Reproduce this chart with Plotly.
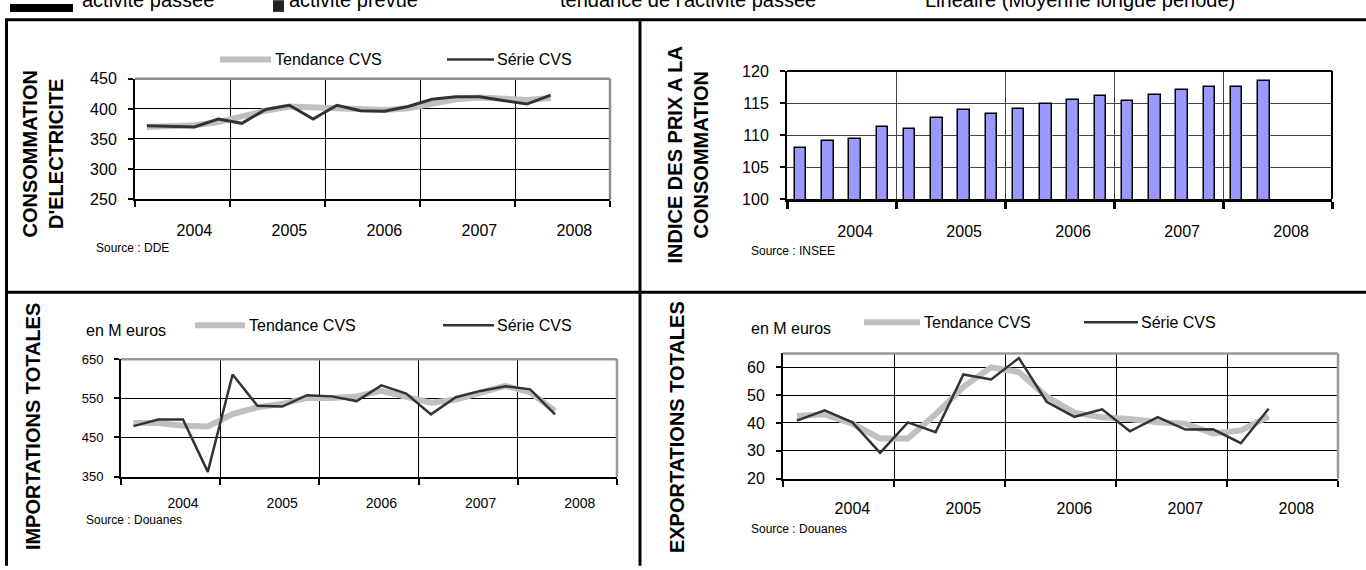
import plotly.graph_objects as go

# ---------------- data ----------------
quarter_slots = list(range(18))          # quarterly points, 4 slots per year
years = ["2004", "2005", "2006", "2007", "2008"]
year_label_slots = [2, 6, 10, 14, 18]
year_boundaries = [-0.5, 3.5, 7.5, 11.5, 15.5, 19.5]

elec_tendance = [370, 372, 373, 378, 388, 397, 404, 403, 401, 399, 398, 401, 409, 416, 419, 418, 415, 418]
elec_serie = [372, 371, 370, 383, 376, 399, 406, 383, 406, 397, 396, 404, 416, 420, 420, 414, 408, 423]

prix = [107.9, 109.1, 109.4, 111.3, 111.0, 112.6, 113.9, 113.3, 114.1, 114.8,
        115.4, 116.1, 115.3, 116.2, 117.0, 117.5, 117.5, 118.5]

imp_tendance = [487, 487, 480, 478, 510, 527, 536, 551, 551, 555, 569, 555, 539, 547, 565, 582, 565, 518]
imp_serie = [479, 496, 496, 362, 611, 531, 529, 558, 555, 543, 583, 562, 509, 553, 569, 581, 573, 509]

exp_tendance = [42.5, 43.1, 39.7, 34.4, 34.4, 43.1, 53.0, 60.0, 58.3, 49.5, 43.7, 42.0, 41.4, 40.2, 39.7, 36.2, 37.3, 42.3]
exp_serie = [40.8, 44.5, 40.2, 29.2, 40.2, 36.7, 57.4, 55.6, 63.3, 47.6, 42.2, 44.9, 37.0, 42.1, 37.6, 37.7, 32.7, 45.1]

legend_names = ["Tendance CVS", "Série CVS"]
top_items = ["activité passée", "activité prévue", "tendance de l'activité passée",
             "Linéaire (Moyenne longue période)"]

# ---------------- helpers ----------------
W, H = 1366, 570
F = "Liberation Sans, Arial"
FB = "Liberation Sans, Arial"
TREND = "#C0C0C0"
SERIE = "#333333"


def X(x):
    return x / W


def Y(y):
    return 1 - y / H


def make_x(x0, x1, yanchor, fsize, label_len, axis_w=2, tick_w=1.5, tick_len=6, grid="black"):
    return dict(domain=[X(x0), X(x1)], anchor=yanchor, range=[-0.5, 19.5],
                showgrid=False, zeroline=False, showline=True, linecolor="black", linewidth=axis_w,
                tickmode="array", tickvals=year_label_slots, ticktext=years,
                ticks="outside", ticklen=label_len, tickcolor="rgba(0,0,0,0)",
                tickfont=dict(family=F, size=fsize, color="black"),
                minor=dict(tickmode="array", tickvals=year_boundaries, ticks="outside",
                           ticklen=tick_len, tickwidth=tick_w, tickcolor="black",
                           showgrid=True, gridcolor=grid, gridwidth=1),
                fixedrange=True)


def make_y(yb, yt, xanchor, rng, dtick, fsize, grid="black", standoff=8):
    return dict(domain=[Y(yb), Y(yt)], anchor=xanchor, range=rng, tick0=rng[0], dtick=dtick,
                showgrid=True, gridcolor=grid, gridwidth=1, zeroline=False,
                showline=True, linecolor="black", linewidth=2,
                ticks="outside", ticklen=5, tickwidth=1.5, tickcolor="black",
                tickfont=dict(family=F, size=fsize, color="black"),
                ticklabelstandoff=standoff, fixedrange=True)


fig = go.Figure()

# panel 1 : electricity
fig.add_trace(go.Scatter(x=quarter_slots, y=elec_tendance, xaxis="x", yaxis="y", mode="lines",
                         line=dict(color=TREND, width=6), showlegend=False, hoverinfo="skip"))
fig.add_trace(go.Scatter(x=quarter_slots, y=elec_serie, xaxis="x", yaxis="y", mode="lines",
                         line=dict(color=SERIE, width=3), showlegend=False, hoverinfo="skip"))
# panel 2 : prices
fig.add_trace(go.Bar(x=quarter_slots, y=prix, xaxis="x2", yaxis="y2", width=0.42,
                     marker=dict(color="#9999FF", line=dict(color="black", width=1.5)),
                     showlegend=False, hoverinfo="skip"))
# panel 3 : imports
fig.add_trace(go.Scatter(x=quarter_slots, y=imp_tendance, xaxis="x3", yaxis="y3", mode="lines",
                         line=dict(color=TREND, width=6), showlegend=False, hoverinfo="skip"))
fig.add_trace(go.Scatter(x=quarter_slots, y=imp_serie, xaxis="x3", yaxis="y3", mode="lines",
                         line=dict(color=SERIE, width=2.5), showlegend=False, hoverinfo="skip"))
# panel 4 : exports
fig.add_trace(go.Scatter(x=quarter_slots, y=exp_tendance, xaxis="x4", yaxis="y4", mode="lines",
                         line=dict(color=TREND, width=6), showlegend=False, hoverinfo="skip"))
fig.add_trace(go.Scatter(x=quarter_slots, y=exp_serie, xaxis="x4", yaxis="y4", mode="lines",
                         line=dict(color=SERIE, width=2.5), showlegend=False, hoverinfo="skip"))

shapes = []
annotations = []

# outer frame lines
for (x0, y0, x1, y1) in [(6.5, 12, 6.5, 575), (5, 12, 1370, 12), (640, 12, 640, 575), (5, 293, 1370, 293)]:
    shapes.append(dict(type="line", xref="paper", yref="paper", x0=X(x0), y0=Y(y0), x1=X(x1), y1=Y(y1),
                       line=dict(color="black", width=3)))

# plot frames (top + right)
for ax, col, w in [("", "#8c8c8c", 2.5), ("2", "black", 2), ("3", "#999999", 2.5), ("4", "#999999", 2.5)]:
    xr, yr = "x%s domain" % ax, "y%s domain" % ax
    shapes.append(dict(type="line", xref=xr, yref=yr, x0=0, x1=1, y0=1, y1=1, line=dict(color=col, width=w)))
    shapes.append(dict(type="line", xref=xr, yref=yr, x0=1, x1=1, y0=0, y1=1, line=dict(color=col, width=w)))


def legend(y, g0, g1, b0, b1, size=16):
    shapes.append(dict(type="line", xref="paper", yref="paper", x0=X(g0), x1=X(g1), y0=Y(y), y1=Y(y),
                       line=dict(color=TREND, width=6)))
    shapes.append(dict(type="line", xref="paper", yref="paper", x0=X(b0), x1=X(b1), y0=Y(y), y1=Y(y),
                       line=dict(color=SERIE, width=2.5)))
    for txt, xx in [(legend_names[0], g1 + 2), (legend_names[1], b1 + 1)]:
        annotations.append(dict(text=txt, x=X(xx), y=Y(y), xref="paper", yref="paper", showarrow=False,
                                xanchor="left", yanchor="middle", font=dict(family=F, size=size, color="black")))


def text(t, x, y, size, family=F, angle=0, xanchor="left"):
    annotations.append(dict(text=t, x=X(x), y=Y(y), xref="paper", yref="paper", showarrow=False,
                            xanchor=xanchor, yanchor="middle", textangle=angle,
                            font=dict(family=family, size=size, color="black")))


# top strip (cut off legend of a previous chart)
shapes.append(dict(type="rect", xref="paper", yref="paper", x0=X(10), x1=X(73), y0=Y(4), y1=Y(-4),
                   fillcolor="black", line=dict(width=0)))
shapes.append(dict(type="rect", xref="paper", yref="paper", x0=X(273), x1=X(284), y0=Y(4), y1=Y(-8),
                   fillcolor="#222222", line=dict(width=0)))
for t, xx in zip(top_items, [80, 287, 558, 923]):
    text(t, xx, -8, 20, family=FB)

# panel 1 texts
text("<b>CONSOMMATION<br>D'ELECTRICITE</b>", 43, 151, 20, family=FB, angle=-90, xanchor="center")
legend(53, 220, 271, 447, 494)
text("Source : DDE", 94, 247, 12)

# panel 2 texts
text("<b>INDICE DES PRIX A LA<br>CONSOMMATION</b>", 688, 152, 20, family=FB, angle=-90, xanchor="center")
text("Source : INSEE", 749, 250, 12)

# panel 3 texts
text("<b>IMPORTATIONS TOTALES</b>", 33, 432, 20, family=FB, angle=-90, xanchor="center")
text("en M euros", 84, 332, 16)
legend(327, 195, 245, 443, 494)
text("Source : Douanes", 84, 528, 12)

# panel 4 texts
text("<b>EXPORTATIONS TOTALES</b>", 677, 432, 20, family=FB, angle=-90, xanchor="center")
text("en M euros", 749, 330, 16)
legend(324, 864, 920, 1084, 1138)
text("Source : Douanes", 749, 537, 12)

fig.update_layout(
    width=W, height=H, autosize=False,
    margin=dict(l=0, r=0, t=0, b=0, pad=0),
    paper_bgcolor="white", plot_bgcolor="white",
    showlegend=False, bargap=0,
    xaxis=make_x(135, 610, "y", 16, 16),
    yaxis=make_y(197, 73, "x", [250, 450], 50, 16),
    xaxis2=make_x(787, 1332, "y2", 16, 16, axis_w=3, tick_w=3, tick_len=7, grid="#444444"),
    yaxis2=make_y(197, 65, "x2", [100, 120], 5, 16, grid="#444444"),
    xaxis3=make_x(121, 617, "y3", 14, 13),
    yaxis3=make_y(483, 362, "x3", [350, 650], 100, 13),
    xaxis4=make_x(783, 1338, "y4", 16, 14),
    yaxis4=make_y(485, 356, "x4", [20, 65], 10, 16),
    shapes=shapes, annotations=annotations,
)

fig.write_html("out.html", config={"displayModeBar": False},
               post_script="document.body.style.margin='0';document.body.style.overflow='hidden';")
